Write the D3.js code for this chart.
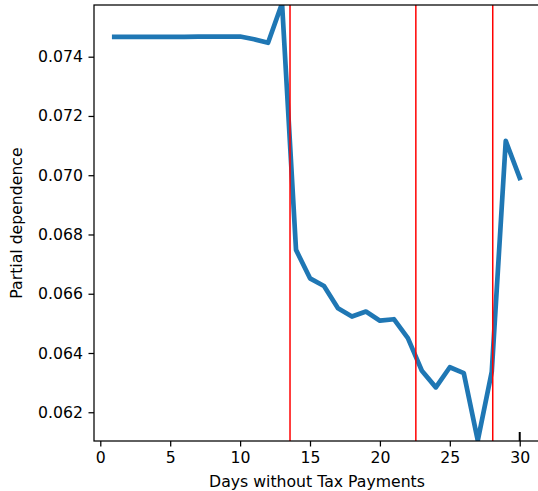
<!DOCTYPE html>
<html>
<head>
<meta charset="utf-8">
<script src="https://cdn.jsdelivr.net/npm/d3@7"></script>
<style>
  body { margin: 0; background: #fff; }
  text { font-family: "DejaVu Sans", sans-serif; fill: #000; }
</style>
</head>
<body>
<div id="vis"></div>
<script>
// Declare constants
const FRAME_WIDTH = 538;
const FRAME_HEIGHT = 491;
// axes box in pixels (right edge falls just past the picture)
const AX = {left: 94, right: 540, top: 5, bottom: 441};

const FONT = 15.7;
const TICK = 5.5;

// days without tax payments (x) and partial dependence (y)
const days = [1, 2, 3, 4, 5, 6, 7, 8, 9, 10, 11, 12, 13, 14, 15,
              16, 17, 18, 19, 20, 21, 22, 23, 24, 25, 26, 27, 28, 29, 30];
const pdValues = [0.07467, 0.07467, 0.07467, 0.07467, 0.07467, 0.07467, 0.07468, 0.07468, 0.07468, 0.07468,
                  0.07459, 0.07447, 0.07580, 0.06748, 0.06652, 0.06626, 0.06551, 0.06523, 0.06540, 0.06509,
                  0.06514, 0.06450, 0.06340, 0.06284, 0.06352, 0.06332, 0.06105, 0.06337, 0.07116, 0.06991];

// red vertical markers
const cutPoints = [13.57, 22.57, 28.07];
// decile rug ticks
const deciles = [30];

const xTicks = [0, 5, 10, 15, 20, 25, 30];
const yTicks = [0.062, 0.064, 0.066, 0.068, 0.070, 0.072, 0.074];

const X_DOMAIN = [-0.45, 31.45];
const Y_DOMAIN = [0.06103, 0.075745];

const svg = d3.select("#vis")
              .append("svg")
                .attr("width", FRAME_WIDTH)
                .attr("height", FRAME_HEIGHT);

svg.append("rect")
     .attr("width", FRAME_WIDTH)
     .attr("height", FRAME_HEIGHT)
     .attr("fill", "white");

const xScale = d3.scaleLinear().domain(X_DOMAIN).range([AX.left, AX.right]);
const yScale = d3.scaleLinear().domain(Y_DOMAIN).range([AX.bottom, AX.top]);

// clip marks to the axes area
svg.append("clipPath")
     .attr("id", "clip")
   .append("rect")
     .attr("x", AX.left)
     .attr("y", AX.top)
     .attr("width", AX.right - AX.left)
     .attr("height", AX.bottom - AX.top);

const plot = svg.append("g").attr("clip-path", "url(#clip)");

// the partial dependence line
const line = d3.line()
  .x((d, i) => xScale(days[i]))
  .y(d => yScale(d));

plot.append("path")
      .datum(pdValues)
      .attr("d", line)
      .attr("fill", "none")
      .attr("stroke", "#1f77b4")
      .attr("stroke-width", 4.7)
      .attr("stroke-linejoin", "round")
      .attr("stroke-linecap", "square");

// red markers
plot.selectAll(".cut")
    .data(cutPoints)
    .join("line")
      .attr("class", "cut")
      .attr("x1", d => xScale(d))
      .attr("x2", d => xScale(d))
      .attr("y1", AX.top)
      .attr("y2", AX.bottom)
      .attr("stroke", "red")
      .attr("stroke-width", 1.5);

// decile rug
plot.selectAll(".decile")
    .data(deciles)
    .join("line")
      .attr("class", "decile")
      .attr("x1", d => xScale(d))
      .attr("x2", d => xScale(d))
      .attr("y1", AX.bottom - 9)
      .attr("y2", AX.bottom)
      .attr("stroke", "black")
      .attr("stroke-width", 2);

// x axis
const xAxis = d3.axisBottom(xScale)
  .tickValues(xTicks)
  .tickFormat(d3.format("d"))
  .tickSize(TICK)
  .tickPadding(5.5);

const gx = svg.append("g")
    .attr("transform", `translate(0,${AX.bottom})`)
    .call(xAxis);

// y axis
const yAxis = d3.axisLeft(yScale)
  .tickValues(yTicks)
  .tickFormat(d3.format(".3f"))
  .tickSize(TICK)
  .tickPadding(5.5);

const gy = svg.append("g")
    .attr("transform", `translate(${AX.left},0)`)
    .call(yAxis);

[gx, gy].forEach(g => {
  g.select(".domain").remove();
  g.selectAll(".tick line").attr("stroke", "#000").attr("stroke-width", 1.25);
  g.selectAll(".tick text")
    .attr("font-family", "DejaVu Sans")
    .attr("font-size", FONT)
    .attr("fill", "#000");
});

// frame (spines)
svg.append("rect")
     .attr("x", AX.left)
     .attr("y", AX.top)
     .attr("width", AX.right - AX.left)
     .attr("height", AX.bottom - AX.top)
     .attr("fill", "none")
     .attr("stroke", "#000")
     .attr("stroke-width", 1.25);

// axis labels
svg.append("text")
     .text("Days without Tax Payments")
     .attr("x", (AX.left + AX.right) / 2)
     .attr("y", 487)
     .attr("text-anchor", "middle")
     .attr("font-size", FONT);

svg.append("text")
     .text("Partial dependence")
     .attr("transform", `translate(22,${(AX.top + AX.bottom) / 2}) rotate(-90)`)
     .attr("text-anchor", "middle")
     .attr("font-size", FONT);
</script>
</body>
</html>
